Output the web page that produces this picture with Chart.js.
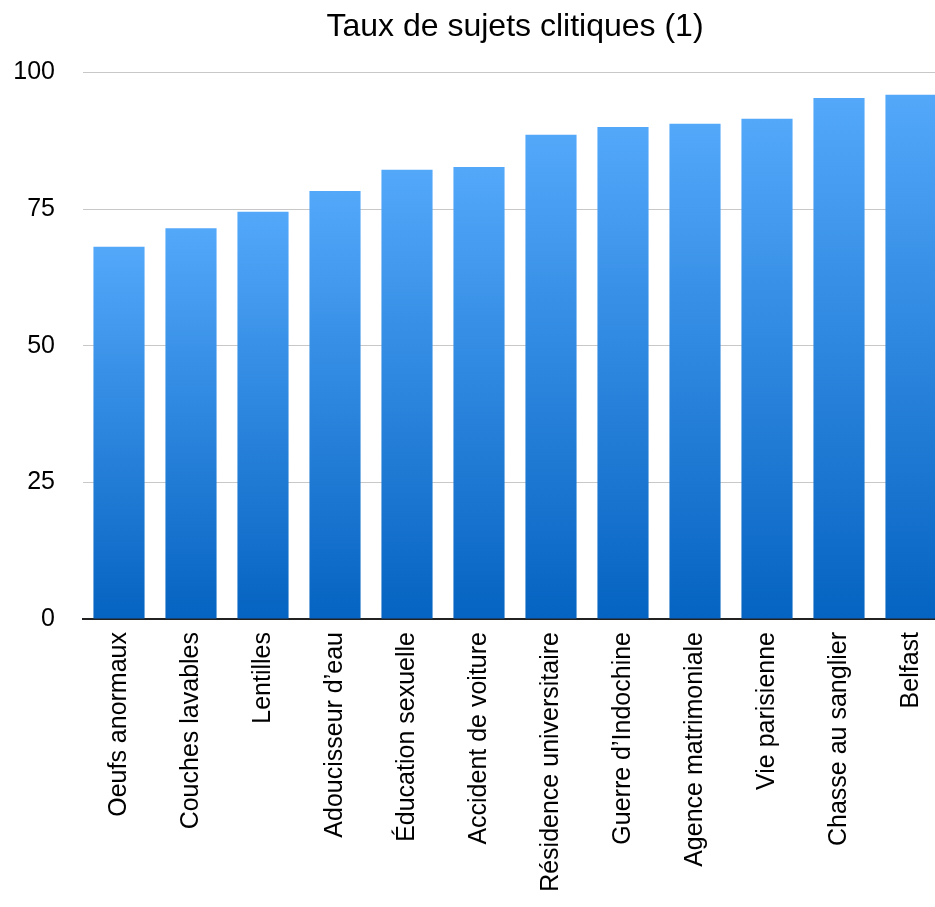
<!DOCTYPE html>
<html lang="fr">
<head>
<meta charset="utf-8">
<title>Taux de sujets clitiques (1)</title>
<script src="https://cdn.jsdelivr.net/npm/chart.js@4/dist/chart.umd.min.js"></script>
<style>
  html, body { margin: 0; padding: 0; background: #fff; overflow: hidden; }
  #wrap { width: 960px; height: 907px; }
</style>
</head>
<body>
<div id="wrap"><canvas id="chart" width="960" height="907"></canvas></div>
<script>
// thèmes et taux (%)
const categories = [
  "Oeufs anormaux", "Couches lavables", "Lentilles", "Adoucisseur d\u2019eau",
  "\u00c9ducation sexuelle", "Accident de voiture", "R\u00e9sidence universitaire",
  "Guerre d\u2019Indochine", "Agence matrimoniale", "Vie parisienne",
  "Chasse au sanglier", "Belfast"
];
const taux = [68.1, 71.5, 74.5, 78.3, 82.2, 82.7, 88.6, 90.0, 90.6, 91.5, 95.3, 95.9];
const yTicks = [0, 25, 50, 75, 100];

const FONT = "'Liberation Sans', Arial, Helvetica, sans-serif";
const TOP_BLUE = "rgb(83,168,250)";
const BOTTOM_BLUE = "rgb(5,99,193)";

// dégradé vertical propre à chaque barre (clair en haut, foncé en bas)
function barGradient(ctx) {
  const chart = ctx.chart;
  const y = chart.scales && chart.scales.y;
  if (!chart.chartArea || !y || ctx.type !== "data") return TOP_BLUE;
  const top = y.getPixelForValue(ctx.raw);
  const base = y.getPixelForValue(0);
  const g = chart.ctx.createLinearGradient(0, top, 0, base);
  g.addColorStop(0, TOP_BLUE);
  g.addColorStop(1, BOTTOM_BLUE);
  return g;
}

new Chart(document.getElementById("chart"), {
  type: "bar",
  data: {
    labels: categories,
    datasets: [{
      label: "Taux",
      data: taux,
      backgroundColor: barGradient,
      borderWidth: 0,
      categoryPercentage: 1,
      barPercentage: 0.71
    }]
  },
  options: {
    responsive: false,
    animation: false,
    layout: { padding: { left: 0, right: 13, top: 0, bottom: 0 } },
    plugins: {
      legend: { display: false },
      tooltip: { enabled: false },
      title: {
        display: true,
        text: "Taux de sujets clitiques (1)",
        fullSize: false,
        color: "#000",
        font: { family: FONT, size: 32, weight: "normal" },
        padding: { top: 8, bottom: 26 }
      }
    },
    scales: {
      x: {
        grid: { display: false, drawTicks: false },
        border: { display: true, color: "#222", width: 2 },
        ticks: {
          color: "#000",
          font: { family: FONT, size: 25 },
          minRotation: 90,
          maxRotation: 90,
          autoSkip: false,
          padding: 13
        },
        afterFit: (scale) => { scale.height = 288; }
      },
      y: {
        min: 0,
        max: 100,
        afterBuildTicks: (scale) => { scale.ticks = yTicks.map(v => ({ value: v })); },
        grid: { color: "#c8c8c8", lineWidth: 1, drawTicks: false },
        border: { display: false },
        ticks: {
          color: "#000",
          font: { family: FONT, size: 25 },
          padding: 28
        },
        afterFit: (scale) => { scale.width = 83; }
      }
    }
  }
});
</script>
</body>
</html>
